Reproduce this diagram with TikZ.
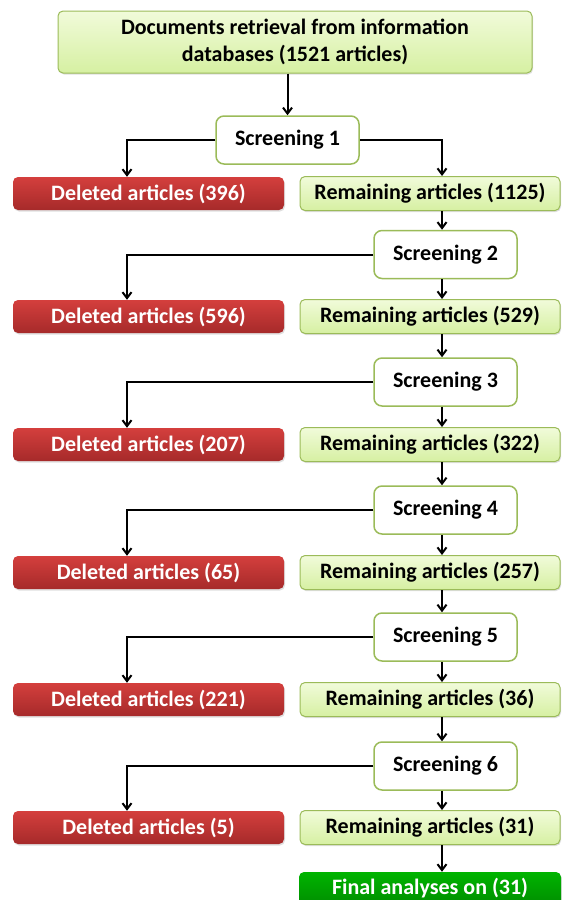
\documentclass[tikz,border=0pt]{standalone}
\usepackage{fontspec}
\setmainfont{Carlito}
\usetikzlibrary{arrows.meta,shadows}

\definecolor{leafgreen}{HTML}{9BBB59}
\definecolor{keeptop}{HTML}{F1FBDA}
\definecolor{keepbottom}{HTML}{D6F0A2}
\definecolor{redtop}{HTML}{D43F3D}
\definecolor{redbottom}{HTML}{A62A2A}
\definecolor{finaltop}{HTML}{00B400}
\definecolor{finalbottom}{HTML}{008E00}

\begin{document}
\begin{tikzpicture}[
        x=1pt, y=-1pt,
        font=\fontsize{22}{27}\selectfont\bfseries,
        box/.style={rounded corners=5pt, inner sep=0pt, align=center,
            drop shadow={shadow xshift=1pt, shadow yshift=-1.5pt, opacity=0.25}},
        kept/.style={box, draw=leafgreen, line width=1pt, top color=keeptop, bottom color=keepbottom,
            minimum width=260pt, minimum height=34pt},
        dropped/.style={box, top color=redtop, bottom color=redbottom, text=white,
            minimum width=271pt, minimum height=33pt},
        final/.style={box, top color=finaltop, bottom color=finalbottom, text=white,
            minimum width=262pt, minimum height=33pt},
        screen/.style={draw=leafgreen, line width=1.5pt, fill=white, rounded corners=8pt,
            minimum width=143pt, minimum height=48pt, inner sep=0pt},
        arrow/.style={-{Straight Barb[length=6pt,width=9pt]}, line width=2pt}
    ]
        \clip (0,0) rectangle (562,900);

        % retrieval and screening steps
        \node[kept, minimum width=474pt, minimum height=62pt] (source) at (295,42)
            {Documents retrieval from information\\databases (1521 articles)};
        \node[screen] (scr-1) at (287.5,140) {Screening 1};
        \foreach \n/\y in {2/254.5, 3/382, 4/510, 5/637, 6/766}
            \node[screen] (scr-\n) at (445.5,\y) {Screening \n};

        % outcome of each screening
        \foreach \n/\y/\del/\rem in {
            1/193.5/396/1125,
            2/316.5/596/529,
            3/444.5/207/322,
            4/572.5/65/257,
            5/699.5/221/36,
            6/827.5/5/31%
        } {
            \node[dropped] (del-\n) at (148.5,\y) {Deleted articles (\del)};
            \node[kept] (rem-\n) at (430,\y) {Remaining articles (\rem)};
        }
        \node[final] (result) at (430,888.5) {Final analyses on (31)};

        \coordinate (lspine) at (127,0);
        \coordinate (rspine) at (442,0);

        % connectors
        \draw[arrow] (source.south -| scr-1.north) -- (scr-1.north);
        \draw[arrow] (scr-1.east) -| (rspine |- rem-1.north);
        \foreach \n in {1,...,6}
            \draw[arrow] (scr-\n.west) -| (lspine |- del-\n.north);
        \foreach \n [count=\m from 2] in {1,...,5} {
            \draw[arrow] (rspine |- rem-\n.south) -- (rspine |- scr-\m.north);
            \draw[arrow] (rspine |- scr-\m.south) -- (rspine |- rem-\m.north);
        }
        \draw[arrow] (rspine |- rem-6.south) -- (rspine |- result.north);
    \end{tikzpicture}
\end{document}
